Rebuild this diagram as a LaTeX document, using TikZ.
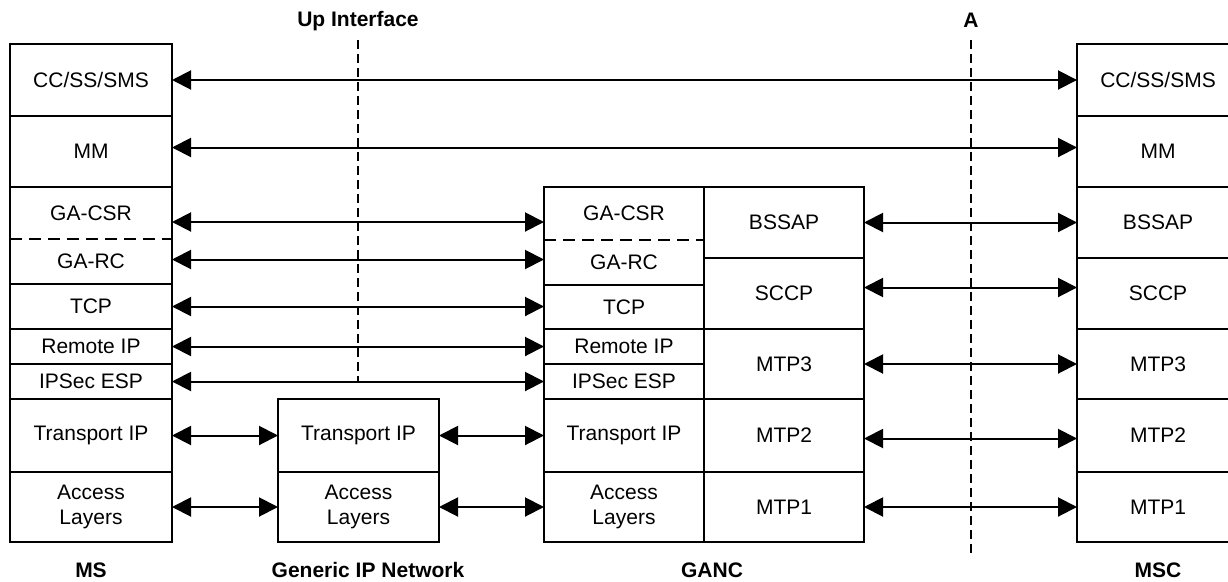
\documentclass[tikz,border=0pt]{standalone}
\usepackage{fontspec}
\setmainfont{Liberation Sans}
\usetikzlibrary{arrows.meta}

\tikzset{
  cell/.style={draw, line width=1.6pt, inner sep=0pt, outer sep=0pt, align=center, anchor=north west,
    font=\fontsize{21}{25}\selectfont},
  opencell/.style={cell, draw=none},
  link/.style={{Triangle[length=19pt,width=19pt]}-{Triangle[length=19pt,width=19pt]}, line width=2pt},
  sep/.style={line width=1.6pt, dash pattern=on 12pt off 7pt},
  iface/.style={line width=1.6pt, dash pattern=on 9pt off 5pt},
  title/.style={font=\bfseries\fontsize{21}{25}\selectfont, inner sep=0pt}
}

\begin{document}
\begin{tikzpicture}[x=1pt,y=-1pt]
\clip (0,0) rectangle (1228,581);

% MS
\node[cell, minimum width=162pt, minimum height=72pt] (cc1) at (10,44) {CC/SS/SMS};
\node[cell, minimum width=162pt, minimum height=71pt] (mm1) at (10,116) {MM};
\node[opencell, minimum width=162pt, minimum height=52pt] (csr1) at (10,187) {GA-CSR};
\node[opencell, minimum width=162pt, minimum height=45pt] (rc1) at (10,239) {GA-RC};
\node[cell, minimum width=162pt, minimum height=45pt] (tcp1) at (10,284) {TCP};
\node[cell, minimum width=162pt, minimum height=35pt] (rip1) at (10,329) {Remote IP};
\node[cell, minimum width=162pt, minimum height=35pt] (esp1) at (10,364) {IPSec ESP};
\node[cell, minimum width=162pt, minimum height=73pt] (tip1) at (10,399) {Transport IP};
\node[cell, minimum width=162pt, minimum height=70pt] (acc1) at (10,472) {Access\\Layers};
\draw[line width=1.6pt] (csr1.north west) rectangle (rc1.south east);
\draw[sep] (csr1.south west) -- (csr1.south east);

% Generic IP Network
\node[cell, minimum width=161pt, minimum height=73pt] (tip2) at (278,399) {Transport IP};
\node[cell, minimum width=161pt, minimum height=70pt] (acc2) at (278,472) {Access\\Layers};

% GANC
\node[opencell, minimum width=160pt, minimum height=53pt] (csr2) at (544,187) {GA-CSR};
\node[opencell, minimum width=160pt, minimum height=45pt] (rc2) at (544,240) {GA-RC};
\node[cell, minimum width=160pt, minimum height=44pt] (tcp2) at (544,285) {TCP};
\node[cell, minimum width=160pt, minimum height=35pt] (rip2) at (544,329) {Remote IP};
\node[cell, minimum width=160pt, minimum height=35pt] (esp2) at (544,364) {IPSec ESP};
\node[cell, minimum width=160pt, minimum height=73pt] (tip3) at (544,399) {Transport IP};
\node[cell, minimum width=160pt, minimum height=70pt] (acc3) at (544,472) {Access\\Layers};
\draw[line width=1.6pt] (csr2.north west) rectangle (rc2.south east);
\draw[sep] (csr2.south west) -- (csr2.south east);
\node[cell, minimum width=160pt, minimum height=71pt] (bssap1) at (704,187) {BSSAP};
\node[cell, minimum width=160pt, minimum height=71pt] (sccp1) at (704,258) {SCCP};
\node[cell, minimum width=160pt, minimum height=70pt] (mtp31) at (704,329) {MTP3};
\node[cell, minimum width=160pt, minimum height=73pt] (mtp21) at (704,399) {MTP2};
\node[cell, minimum width=160pt, minimum height=70pt] (mtp11) at (704,472) {MTP1};

% MSC
\node[cell, minimum width=162pt, minimum height=72pt] (cc2) at (1077,44) {CC/SS/SMS};
\node[cell, minimum width=162pt, minimum height=71pt] (mm2) at (1077,116) {MM};
\node[cell, minimum width=162pt, minimum height=71pt] (bssap2) at (1077,187) {BSSAP};
\node[cell, minimum width=162pt, minimum height=71pt] (sccp2) at (1077,258) {SCCP};
\node[cell, minimum width=162pt, minimum height=70pt] (mtp32) at (1077,329) {MTP3};
\node[cell, minimum width=162pt, minimum height=73pt] (mtp22) at (1077,399) {MTP2};
\node[cell, minimum width=162pt, minimum height=70pt] (mtp12) at (1077,472) {MTP1};

% interfaces
\coordinate (up1) at (358,40);
\coordinate (up2) at (358,383);
\coordinate (a1) at (971,40);
\coordinate (a2) at (971,555);
\draw[iface] (up1) -- (up2);
\draw[iface] (a1) -- (a2);
\node[title] (upname) at (358,21) {Up Interface};
\node[title] (aname) at (971,20) {A};

% peer links
\draw[link] (cc1.east) -- (cc1.east -| cc2.west);
\draw[link] ([yshift=4pt]mm1.east) -- ([yshift=4pt]mm1.east -| mm2.west);
\draw[link] ([yshift=-9pt]csr1.east) -- ([yshift=-9pt]csr1.east -| csr2.west);
\draw[link] ([yshift=2pt]rc1.east) -- ([yshift=2pt]rc1.east -| rc2.west);
\draw[link] (tcp1.east) -- (tcp1.east -| tcp2.west);
\draw[link] (rip1.east) -- (rip1.east -| rip2.west);
\draw[link] (esp1.east) -- (esp1.east -| esp2.west);
\draw[link] (tip1.east) -- (tip2.west);
\draw[link] (acc1.east) -- (acc2.west);
\draw[link] (tip2.east) -- (tip3.west);
\draw[link] (acc2.east) -- (acc3.west);
\draw[link] (bssap1.east) -- (bssap1.east -| bssap2.west);
\draw[link] ([yshift=6pt]sccp1.east) -- ([yshift=6pt]sccp1.east -| sccp2.west);
\draw[link] (mtp31.east) -- (mtp31.east -| mtp32.west);
\draw[link] ([yshift=-3pt]mtp21.east) -- ([yshift=-3pt]mtp21.east -| mtp22.west);
\draw[link] (mtp11.east) -- (mtp11.east -| mtp12.west);

% entity names
\node[title] (msname) at (91,570) {MS};
\node[title] (gipname) at (368,570) {Generic IP Network};
\node[title] (gancname) at (712,570) {GANC};
\node[title] (mscname) at (1158,570) {MSC};
\end{tikzpicture}
\end{document}
